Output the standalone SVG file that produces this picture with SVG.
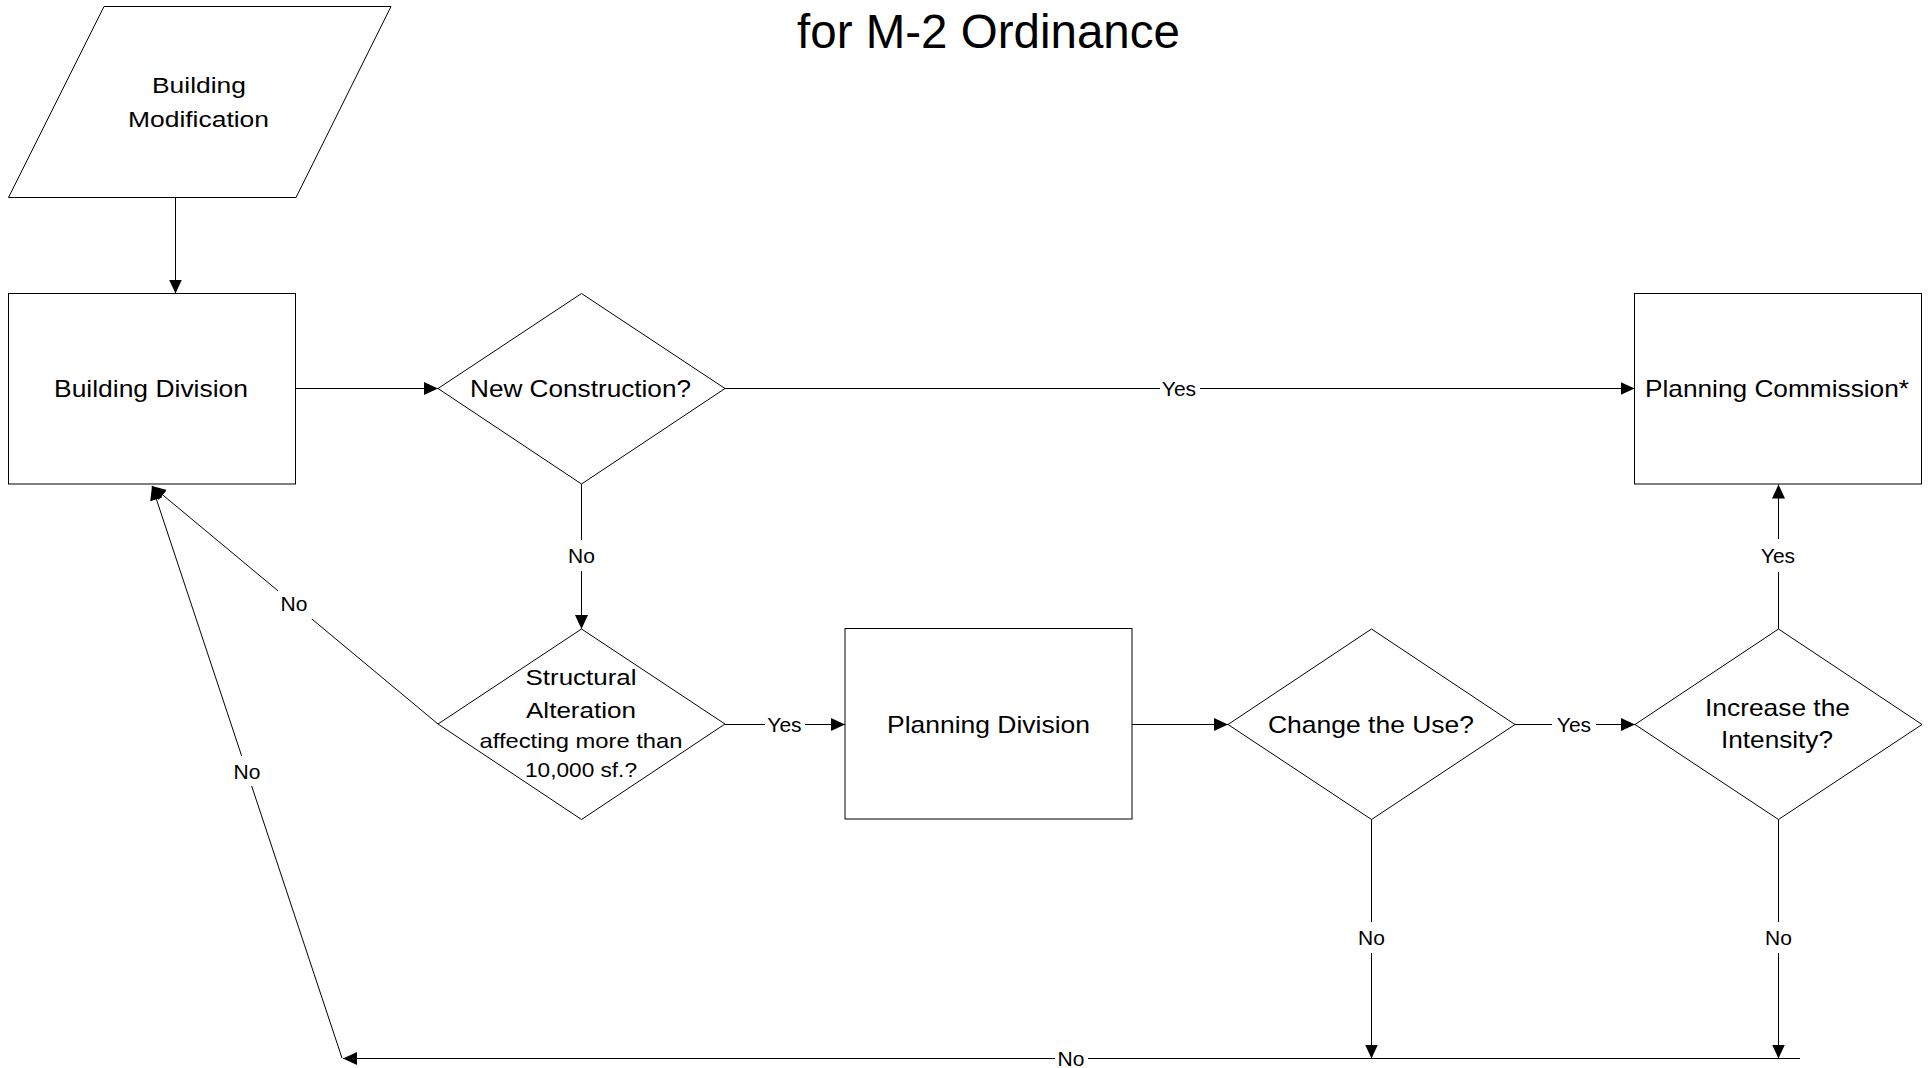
<svg xmlns="http://www.w3.org/2000/svg" width="1931" height="1068" viewBox="0 0 1931 1068">
<style>
.shape{fill:#fff;stroke:#000;stroke-width:1}
.conn{fill:none;stroke:#000;stroke-width:1}
.txt{font-family:"Liberation Sans",Arial,sans-serif;fill:#000;text-anchor:middle}
.node{font-size:24px}
.lbl{font-size:21px}
.lblbg{fill:#fff;stroke:none}
.title{font-size:47.5px}
</style>
<defs>
<marker id="arr" markerUnits="userSpaceOnUse" markerWidth="14" markerHeight="13" refX="14" refY="6.5" orient="auto">
<path d="M0,0 L14,6.5 L0,13 z" fill="#000"/>
</marker>
</defs>
<rect width="1931" height="1068" fill="#fff"/>
<g id="title">
<text class="txt title" x="988.5" y="48">for M-2 Ordinance</text>
</g>
<g id="connectors">
<line class="conn" x1="175.5" y1="197" x2="175.5" y2="293.5" marker-end="url(#arr)"/>
<line class="conn" x1="295.5" y1="388.5" x2="438" y2="388.5" marker-end="url(#arr)"/>
<line class="conn" x1="725" y1="388.5" x2="1634.5" y2="388.5" marker-end="url(#arr)"/>
<line class="conn" x1="581.5" y1="484" x2="581.5" y2="629" marker-end="url(#arr)"/>
<line class="conn" x1="725" y1="724.5" x2="845" y2="724.5" marker-end="url(#arr)"/>
<line class="conn" x1="1132" y1="724.5" x2="1228" y2="724.5" marker-end="url(#arr)"/>
<line class="conn" x1="1515" y1="724.5" x2="1635" y2="724.5" marker-end="url(#arr)"/>
<line class="conn" x1="1778.5" y1="629" x2="1778.5" y2="484.5" marker-end="url(#arr)"/>
<line class="conn" x1="1371.5" y1="819" x2="1371.5" y2="1058.5" marker-end="url(#arr)"/>
<line class="conn" x1="1778.5" y1="819" x2="1778.5" y2="1058.5" marker-end="url(#arr)"/>
<line class="conn" x1="1800" y1="1058.5" x2="343" y2="1058.5" marker-end="url(#arr)"/>
<line class="conn" x1="438" y1="724" x2="152" y2="486" marker-end="url(#arr)"/>
<line class="conn" x1="342" y1="1058" x2="152" y2="486" marker-end="url(#arr)"/>
<g id="edge-labels">
<rect class="lblbg" x="1160" y="374" width="40" height="30"/>
<text class="txt lbl" x="1179" y="396">Yes</text>
<rect class="lblbg" x="566" y="540" width="32" height="31"/>
<text class="txt lbl" x="581.5" y="562.5">No</text>
<rect class="lblbg" x="765" y="710" width="40" height="30"/>
<text class="txt lbl" x="784.5" y="731.5">Yes</text>
<rect class="lblbg" x="1552" y="710" width="44" height="30"/>
<text class="txt lbl" x="1574" y="731.5">Yes</text>
<rect class="lblbg" x="1762" y="539" width="34" height="33"/>
<text class="txt lbl" x="1778" y="562.5">Yes</text>
<rect class="lblbg" x="278" y="589" width="34" height="30"/>
<text class="txt lbl" x="294" y="610.5">No</text>
<rect class="lblbg" x="230" y="756" width="34" height="30"/>
<text class="txt lbl" x="247" y="778.5">No</text>
<rect class="lblbg" x="1355" y="922" width="34" height="31"/>
<text class="txt lbl" x="1371.5" y="944.5">No</text>
<rect class="lblbg" x="1762" y="922" width="34" height="31"/>
<text class="txt lbl" x="1778.5" y="944.5">No</text>
<rect class="lblbg" x="1055" y="1044" width="33" height="24"/>
<text class="txt lbl" x="1071" y="1065.5">No</text>
</g>
</g>
<g id="building-modification">
<polygon class="shape" points="104,6.5 391,6.5 296,197.5 8.5,197.5"/>
<text class="txt" style="font-size:22.5px" x="199" y="93" textLength="94" lengthAdjust="spacingAndGlyphs">Building</text>
<text class="txt" style="font-size:22.5px" x="198.5" y="127" textLength="141" lengthAdjust="spacingAndGlyphs">Modification</text>
</g>
<g id="building-division">
<rect class="shape" x="8.5" y="293.5" width="287" height="190.5"/>
<text class="txt node" x="151" y="397" textLength="194" lengthAdjust="spacingAndGlyphs">Building Division</text>
</g>
<g id="new-construction">
<polygon class="shape" points="581.5,293.5 725,388.5 581.5,484 438,388.5"/>
<text class="txt node" x="580.5" y="397" textLength="221" lengthAdjust="spacingAndGlyphs">New Construction?</text>
</g>
<g id="planning-commission">
<rect class="shape" x="1634.5" y="293.5" width="287" height="190.5"/>
<text class="txt node" x="1777" y="397" textLength="264" lengthAdjust="spacingAndGlyphs">Planning Commission*</text>
</g>
<g id="structural-alteration">
<polygon class="shape" points="581.5,629 725,724 581.5,819.5 438,724"/>
<text class="txt" style="font-size:22px" x="581" y="685" textLength="111" lengthAdjust="spacingAndGlyphs">Structural</text>
<text class="txt" style="font-size:22px" x="581" y="718" textLength="110" lengthAdjust="spacingAndGlyphs">Alteration</text>
<text class="txt" style="font-size:21px" x="581" y="748" textLength="203" lengthAdjust="spacingAndGlyphs">affecting more than</text>
<text class="txt" style="font-size:21px" x="581" y="777" textLength="112" lengthAdjust="spacingAndGlyphs">10,000 sf.?</text>
</g>
<g id="planning-division">
<rect class="shape" x="845" y="628.5" width="287" height="190.5"/>
<text class="txt node" x="988.5" y="732.5" textLength="203" lengthAdjust="spacingAndGlyphs">Planning Division</text>
</g>
<g id="change-use">
<polygon class="shape" points="1371.5,629 1515,724.5 1371.5,819.5 1228,724.5"/>
<text class="txt node" x="1371" y="732.5" textLength="206" lengthAdjust="spacingAndGlyphs">Change the Use?</text>
</g>
<g id="increase-intensity">
<polygon class="shape" points="1778.5,629 1922,724.5 1778.5,819.5 1635,724.5"/>
<text class="txt node" x="1777.5" y="716" textLength="145" lengthAdjust="spacingAndGlyphs">Increase the</text>
<text class="txt node" x="1777" y="748" textLength="112" lengthAdjust="spacingAndGlyphs">Intensity?</text>
</g>
</svg>
